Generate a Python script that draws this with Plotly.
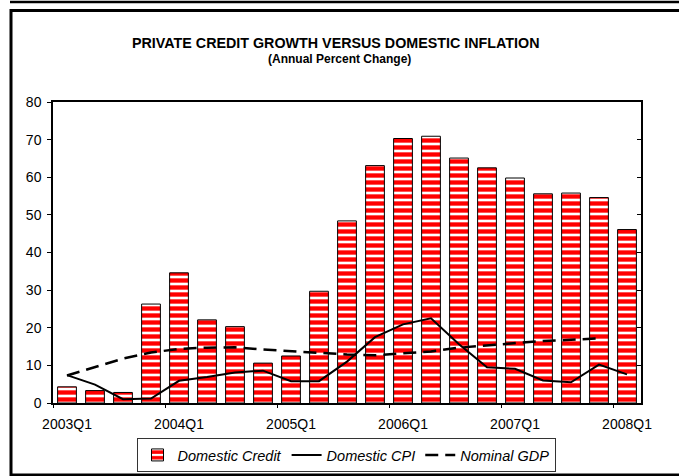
import plotly.graph_objects as go

# Quarterly periods
quarters = [
    "2003Q1", "2003Q2", "2003Q3", "2003Q4",
    "2004Q1", "2004Q2", "2004Q3", "2004Q4",
    "2005Q1", "2005Q2", "2005Q3", "2005Q4",
    "2006Q1", "2006Q2", "2006Q3", "2006Q4",
    "2007Q1", "2007Q2", "2007Q3", "2007Q4",
    "2008Q1",
]

# Annual percent change
domestic_credit = [4.3, 3.3, 2.8, 26.3, 34.6, 22.1, 20.3, 10.6, 12.5, 29.7,
                   48.4, 63.1, 70.3, 70.9, 65.1, 62.5, 59.8, 55.6, 55.8, 54.6,
                   46.1]
domestic_cpi = [7.4, 4.9, 1.0, 1.2, 5.9, 6.9, 8.1, 8.6, 5.8, 5.8,
                11.0, 17.5, 20.9, 22.5, 15.6, 9.5, 9.1, 6.0, 5.5, 10.2,
                7.6]
nominal_gdp = [7.3, 9.6, 11.8, 13.4, 14.4, 14.7, 14.8, 14.2, 13.7, 13.3,
               12.9, 12.7, 13.1, 13.7, 14.7, 15.3, 15.9, 16.5, 16.8, 17.2,
               None]

labelled_quarters = ["2003Q1", "2004Q1", "2005Q1", "2006Q1", "2007Q1", "2008Q1"]
y_ticks = [0, 10, 20, 30, 40, 50, 60, 70, 80]

W, H = 679, 476
ML, MR, MT, MB = 53, 38, 102, 73
PW, PH = W - ML - MR, H - MT - MB


def px(x):
    return (x - ML) / PW


def py(y):
    return (H - MB - y) / PH


FONT = "Liberation Sans, Arial, sans-serif"

fig = go.Figure()

fig.add_trace(go.Bar(
    x=quarters, y=domestic_credit, name="<i>Domestic Credit</i>",
    width=0.67,
    marker=dict(
        color="white",
        line=dict(color="black", width=1),
        pattern=dict(shape="-", fgcolor="#ff0000", bgcolor="white",
                     fgopacity=1, size=7, solidity=0.62, fillmode="replace"),
    ),
))

fig.add_trace(go.Scatter(
    x=quarters, y=domestic_cpi, name="<i>Domestic CPI</i>",
    mode="lines", line=dict(color="black", width=2),
))

fig.add_trace(go.Scatter(
    x=quarters, y=nominal_gdp, name="<i>Nominal GDP</i>",
    mode="lines", line=dict(color="black", width=2.5, dash="13px,7px"),
))

# Helper trace so the boundary-tick and inner-tick axes are drawn
fig.add_trace(go.Scatter(
    x=[0], y=[0], xaxis="x2", yaxis="y3", mode="markers",
    marker=dict(opacity=0), showlegend=False, hoverinfo="skip",
))

fig.update_layout(
    width=W, height=H,
    margin=dict(l=ML, r=MR, t=MT, b=MB, autoexpand=False),
    paper_bgcolor="white", plot_bgcolor="white",
    font=dict(family=FONT, size=14, color="black"),
    bargap=0.33,
    showlegend=True,
    legend=dict(
        orientation="h", x=px(346), xanchor="center", y=py(455), yanchor="middle",
        bordercolor="#333333", borderwidth=1, bgcolor="white",
        font=dict(family=FONT, size=14.5, color="black"),
        itemwidth=30, tracegroupgap=0,
    ),
    xaxis=dict(
        type="category", categoryorder="array", categoryarray=quarters,
        range=[-0.5, len(quarters) - 0.5],
        tickmode="array", tickvals=labelled_quarters, ticktext=labelled_quarters,
        ticks="outside", ticklen=7, tickcolor="rgba(0,0,0,0)",
        showline=True, linecolor="black", linewidth=1.5,
        showgrid=False, zeroline=False, mirror=True,
        tickfont=dict(size=14),
    ),
    xaxis2=dict(
        overlaying="x", anchor="y", side="bottom",
        range=[-0.5, len(quarters) - 0.5],
        tickmode="array", tickvals=[-0.5, 3.5, 7.5, 11.5, 15.5, 19.5],
        ticks="outside", ticklen=4, tickcolor="black", tickwidth=1,
        showticklabels=False, showgrid=False, zeroline=False, showline=False,
    ),
    yaxis=dict(
        range=[0, 80], tickmode="array", tickvals=y_ticks,
        ticks="outside", ticklen=4, tickcolor="black",
        showline=True, linecolor="black", linewidth=1.5, mirror=True,
        showgrid=False, zeroline=False, ticklabelstandoff=3,
        tickfont=dict(size=14),
    ),
    yaxis2=dict(
        overlaying="y", side="right", anchor="x",
        range=[0, 80], tickmode="array", tickvals=y_ticks,
        ticks="outside", ticklen=4, tickcolor="black",
        showline=True, linecolor="black", linewidth=1.5,
        showgrid=False, zeroline=False, ticklabelstandoff=3,
        tickfont=dict(size=14),
    ),
    yaxis3=dict(
        overlaying="y", side="right", anchor="x",
        range=[0, 80], tickmode="array", tickvals=y_ticks,
        ticks="inside", ticklen=4, tickcolor="black",
        showticklabels=False, showgrid=False, zeroline=False, showline=False,
    ),
)

# Title lines
fig.add_annotation(
    text="<b>PRIVATE CREDIT GROWTH VERSUS DOMESTIC INFLATION</b>",
    xref="paper", yref="paper", x=px(335), y=py(43),
    xanchor="center", yanchor="middle", showarrow=False,
    font=dict(family=FONT, size=14.3, color="black"),
)
fig.add_annotation(
    text="<b>(Annual Percent Change)</b>",
    xref="paper", yref="paper", x=px(339), y=py(59),
    xanchor="center", yanchor="middle", showarrow=False,
    font=dict(family=FONT, size=12, color="black"),
)

# Outer frame lines
frame = [
    (10, 2, W + 5, 2, 2.5),        # bottom edge of the box above
    (11, 10.5, W + 5, 10.5, 3),    # top edge
    (11, 9, 11, 476, 3),           # left edge
    (11, 475, W + 5, 475, 3),      # bottom edge
]
for x0, y0, x1, y1, w in frame:
    fig.add_shape(
        type="line", xref="paper", yref="paper",
        x0=px(x0), y0=py(y0), x1=px(x1), y1=py(y1),
        line=dict(color="black", width=w),
    )

fig.write_html("out.html")
